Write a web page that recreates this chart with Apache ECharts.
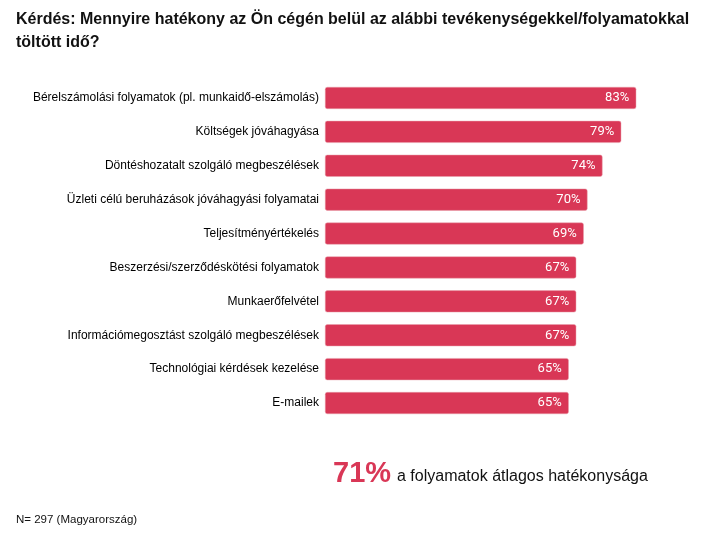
<!DOCTYPE html>
<html>
<head>
<meta charset="utf-8">
<script src="https://cdn.jsdelivr.net/npm/echarts@6/dist/echarts.min.js"></script>
<style>html,body{margin:0;padding:0;background:#fff;}#chart{width:714px;height:533px;}</style>
</head>
<body>
<div id="chart"></div>
<script>
const categories = [
  "Bérelszámolási folyamatok (pl. munkaidő-elszámolás)",
  "Költségek jóváhagyása",
  "Döntéshozatalt szolgáló megbeszélések",
  "Üzleti célú beruházások jóváhagyási folyamatai",
  "Teljesítményértékelés",
  "Beszerzési/szerződéskötési folyamatok",
  "Munkaerőfelvétel",
  "Információmegosztást szolgáló megbeszélések",
  "Technológiai kérdések kezelése",
  "E-mailek"
];
const values = [83, 79, 74, 70, 69, 67, 67, 67, 65, 65];
const titleText = "Kérdés: Mennyire hatékony az Ön cégén belül az alábbi tevékenységekkel/folyamatokkal\ntöltött idő?";
const averageValue = "71%";
const averageText = "a folyamatok átlagos hatékonysága";
const noteText = "N= 297 (Magyarország)";

const chart = echarts.init(document.getElementById('chart'));
chart.setOption({
  backgroundColor: '#fff',
  animation: false,
  title: {
    text: titleText,
    left: 11, top: 3,
    textStyle: { fontFamily: 'Liberation Sans, Arial', fontWeight: 'bold', fontSize: 16, color: '#111', lineHeight: 23 }
  },
  grid: { left: 325, width: 375, top: 81, height: 339, containLabel: false },
  xAxis: { type: 'value', min: 0, max: 100, show: false },
  yAxis: {
    type: 'category', data: categories, inverse: true,
    axisLine: { show: false }, axisTick: { show: false },
    axisLabel: { fontFamily: 'Liberation Sans, Arial', fontSize: 12, color: '#000', margin: 6 }
  },
  series: [{
    type: 'bar', data: values, barWidth: 22,
    itemStyle: { color: '#D93756', borderRadius: 2, borderColor: '#e8a0ad', borderWidth: 0.5 },
    label: { show: true, position: 'insideRight', formatter: '{c}%', color: '#fff', fontFamily: 'Roboto, Liberation Sans', fontSize: 13, offset: [-2, 0] }
  }],
  graphic: [
    { type: 'text', left: 333, top: 459, style: { text: averageValue, font: 'bold 29px Liberation Sans, Arial', fill: '#D93756' } },
    { type: 'text', left: 397, top: 469, style: { text: averageText, font: '16px Liberation Sans, Arial', fill: '#111' } },
    { type: 'text', left: 16, top: 514, style: { text: noteText, font: '11.5px Liberation Sans, Arial', fill: '#111' } }
  ]
});
</script>
</body>
</html>
